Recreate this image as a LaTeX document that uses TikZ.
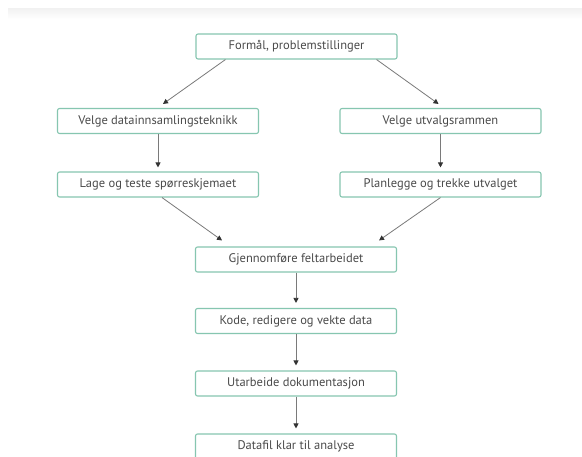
\documentclass[tikz,border=0pt]{standalone}
\usepackage{fontspec}
\setmainfont{PT Sans}
\usetikzlibrary{arrows.meta}
\definecolor{boxline}{HTML}{86C6B0}
\definecolor{txt}{HTML}{4A4A4A}
\definecolor{lin}{HTML}{7A7A7A}
\definecolor{tip}{HTML}{333333}
\begin{document}
\begin{tikzpicture}[x=1pt,y=1pt,
  stepbox/.style={draw=boxline,line width=1.1pt,rounded corners=2pt,fill=white,
    minimum width=201pt,minimum height=25pt,inner sep=0pt,text=txt,
    font=\fontsize{12.5}{14}\selectfont},
  arr/.style={draw=lin,line width=0.8pt,-{Triangle[length=5pt,width=5pt,color=tip]}}]
\useasboundingbox (0,0) rectangle (582,-457);
\clip (0,0) rectangle (582,-457);
\fill[white] (0,0) rectangle (582,-457);
\shade[top color=black!5,bottom color=white] (8,-9) rectangle (582,-19);
\node[stepbox] (top) at (296.5,-46.5) {Formål, problemstillinger};
\node[stepbox] (L2) at (158,-121) {Velge datainnsamlingsteknikk};
\node[stepbox] (R2) at (440.5,-121) {Velge utvalgsrammen};
\node[stepbox] (L3) at (158,-184.5) {Lage og teste spørreskjemaet};
\node[stepbox] (R3) at (440.5,-184.5) {Planlegge og trekke utvalget};
\node[stepbox] (G) at (296,-259.5) {Gjennomføre feltarbeidet};
\node[stepbox] (K) at (296,-321) {Kode, redigere og vekte data};
\node[stepbox] (U) at (296,-383.5) {Utarbeide dokumentasjon};
\node[stepbox] (D) at (296,-446.5) {Datafil klar til analyse};
\draw[arr] ([xshift=30pt]top.south west) -- ([xshift=5pt,yshift=4pt]L2.north);
\draw[arr] ([xshift=-21pt]top.south east) -- ([xshift=-2pt,yshift=4pt]R2.north);
\draw[arr] (L2.south) -- ([yshift=4pt]L3.north);
\draw[arr] (R2.south) -- ([yshift=4pt]R3.north);
\draw[arr] ([xshift=4pt]L3.south) -- ([xshift=-74pt,yshift=6pt]G.north);
\draw[arr] (R3.south) -- ([xshift=83pt,yshift=6pt]G.north);
\draw[arr] (G.south) -- ([yshift=5pt]K.north);
\draw[arr] (K.south) -- ([yshift=5pt]U.north);
\draw[arr] (U.south) -- ([yshift=5pt]D.north);
\end{tikzpicture}
\end{document}
